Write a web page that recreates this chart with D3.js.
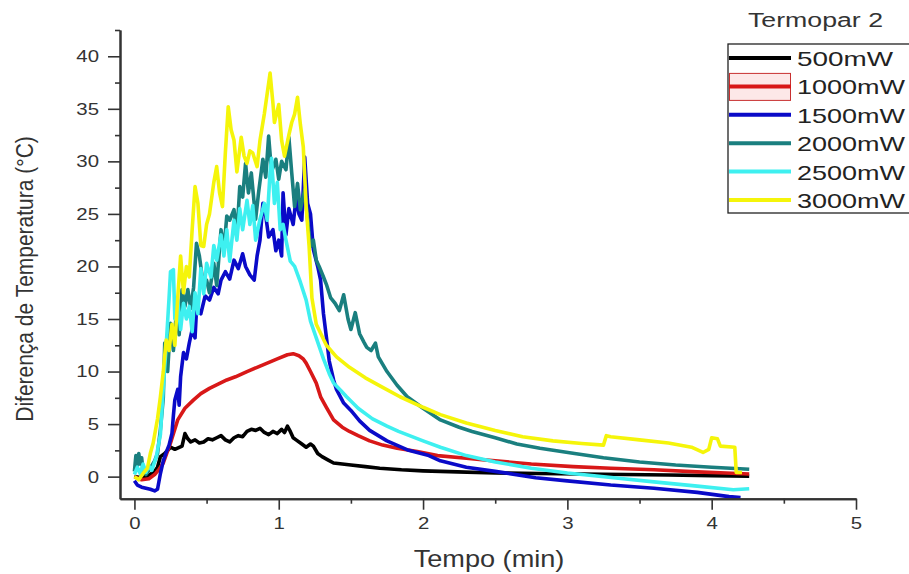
<!DOCTYPE html>
<html>
<head>
<meta charset="utf-8">
<script src="https://cdn.jsdelivr.net/npm/d3@7"></script>
<style>
  body { margin: 0; background: #fff; }
  svg { display: block; font-family: "Liberation Sans", Arial, sans-serif; }
</style>
</head>
<body>
<svg id="chart" width="909" height="574"></svg>
<script>
// labels
var seriesNames = ["500mW", "1000mW", "1500mW", "2000mW", "2500mW", "3000mW"]
var xTicks = [0, 1, 2, 3, 4, 5]
var yTicks = [0, 5, 10, 15, 20, 25, 30, 35, 40]

// data: [tempo (min), diferença (°C)]
var p500 = [[0,0],[0.05,-0.1],[0.1,0.1],[0.14,0.5],[0.16,0.9],[0.18,1.9],[0.21,2.2],[0.25,2.8],[0.28,2.6],[0.33,2.9],[0.35,4.1],[0.37,3.6],[0.39,3.3],[0.42,3.5],[0.45,3.2],[0.48,3.3],[0.51,3.6],[0.54,3.5],[0.57,3.7],[0.6,3.9],[0.63,3.5],[0.66,3.3],[0.69,3.7],[0.72,3.9],[0.75,3.8],[0.78,4.3],[0.81,4.5],[0.84,4.4],[0.87,4.6],[0.9,4.2],[0.93,4.0],[0.96,4.3],[0.99,4.1],[1.02,4.5],[1.04,4.2],[1.06,4.8],[1.08,4.3],[1.1,3.7],[1.12,3.5],[1.16,3.1],[1.19,2.8],[1.22,3.1],[1.24,2.9],[1.27,2.2],[1.3,1.9],[1.34,1.6],[1.38,1.3],[1.44,1.2],[1.5,1.1],[1.6,0.95],[1.7,0.8],[1.85,0.65],[2.0,0.55],[2.24,0.45],[2.5,0.35],[2.8,0.3],[3.1,0.25],[3.4,0.2],[3.7,0.15],[4.0,0.1],[4.26,0.05]]

var p1000 = [[0,0],[0.05,-0.3],[0.1,-0.2],[0.14,0.2],[0.17,0.7],[0.2,1.3],[0.25,3.2],[0.3,5.4],[0.35,6.5],[0.41,7.3],[0.46,7.9],[0.52,8.4],[0.58,8.8],[0.64,9.2],[0.7,9.5],[0.78,10.0],[0.85,10.4],[0.92,10.8],[0.99,11.2],[1.06,11.6],[1.1,11.7],[1.14,11.5],[1.17,11.2],[1.19,10.8],[1.22,10.0],[1.26,8.9],[1.29,7.6],[1.33,6.6],[1.38,5.4],[1.44,4.7],[1.49,4.3],[1.55,3.9],[1.63,3.4],[1.72,3.0],[1.82,2.7],[1.96,2.4],[2.1,2.0],[2.3,1.75],[2.5,1.5],[2.75,1.2],[3.04,0.95],[3.3,0.8],[3.6,0.65],[3.9,0.45],[4.1,0.35],[4.26,0.25]]

var p1500 = [[0,-0.4],[0.02,-0.8],[0.05,-1.0],[0.08,-1.1],[0.11,-1.2],[0.14,-1.35],[0.16,-1.2],[0.18,0.3],[0.2,1.5],[0.22,2.3],[0.24,3.0],[0.26,4.1],[0.27,5.8],[0.28,7.3],[0.3,8.3],[0.31,6.8],[0.32,9.5],[0.34,11.8],[0.36,11.2],[0.38,12.7],[0.4,14.0],[0.42,13.2],[0.43,15.9],[0.46,15.5],[0.49,17.2],[0.52,16.8],[0.55,18.0],[0.58,17.4],[0.6,18.7],[0.63,19.5],[0.66,18.8],[0.69,20.6],[0.72,19.8],[0.75,21.2],[0.77,20.0],[0.8,19.2],[0.83,18.7],[0.85,21.0],[0.87,22.5],[0.89,26.0],[0.91,24.8],[0.93,22.8],[0.96,23.5],[0.98,21.5],[1.0,22.5],[1.02,21.0],[1.03,27.0],[1.05,23.0],[1.07,25.5],[1.1,24.0],[1.12,26.5],[1.14,25.0],[1.16,24.4],[1.18,30.4],[1.2,26.0],[1.22,25.0],[1.24,21.6],[1.27,20.0],[1.29,18.7],[1.31,15.5],[1.33,13.3],[1.35,11.0],[1.38,9.2],[1.4,8.3],[1.45,7.0],[1.5,6.3],[1.56,5.3],[1.63,4.4],[1.75,3.4],[1.9,2.5],[2.04,2.0],[2.12,1.5],[2.3,0.9],[2.5,0.5],[2.78,-0.1],[3.0,-0.4],[3.3,-0.8],[3.6,-1.1],[3.9,-1.5],[4.12,-1.9],[4.2,-2.0]]

var p2000 = [[0,0.5],[0.01,2.0],[0.02,1.0],[0.03,2.2],[0.04,1.2],[0.05,1.8],[0.06,0.5],[0.08,0.2],[0.11,0.8],[0.14,1.5],[0.16,2.2],[0.18,4.5],[0.2,7.5],[0.21,12.7],[0.23,10.0],[0.25,14.6],[0.27,12.0],[0.29,15.5],[0.31,13.5],[0.33,17.8],[0.35,16.2],[0.37,17.8],[0.39,16.0],[0.41,18.0],[0.43,22.2],[0.45,21.0],[0.47,19.0],[0.5,18.7],[0.52,17.5],[0.55,20.3],[0.57,18.2],[0.6,23.5],[0.62,21.6],[0.64,24.8],[0.66,24.4],[0.69,25.4],[0.71,23.0],[0.73,27.6],[0.75,26.6],[0.77,29.8],[0.79,27.0],[0.81,28.9],[0.84,24.5],[0.86,27.0],[0.89,30.2],[0.91,28.5],[0.93,32.4],[0.95,29.0],[0.98,30.2],[1.0,28.3],[1.02,30.0],[1.05,29.2],[1.07,32.3],[1.09,28.9],[1.11,25.7],[1.13,27.9],[1.15,25.4],[1.18,27.3],[1.2,24.4],[1.22,21.9],[1.24,22.5],[1.26,20.6],[1.28,20.0],[1.31,19.0],[1.33,18.3],[1.36,17.0],[1.39,16.5],[1.42,15.8],[1.45,17.3],[1.48,15.0],[1.5,14.0],[1.53,15.6],[1.56,13.6],[1.59,12.8],[1.61,12.3],[1.64,12.0],[1.67,12.7],[1.69,11.4],[1.75,10.0],[1.82,8.7],[1.89,7.6],[2.0,6.5],[2.12,5.4],[2.25,4.7],[2.34,4.3],[2.5,3.7],[2.65,3.1],[2.81,2.7],[3.05,2.2],[3.25,1.8],[3.5,1.4],[3.75,1.1],[4.0,0.9],[4.26,0.7]]

var p2500 = [[0,0.2],[0.02,0.9],[0.04,0.3],[0.06,1.2],[0.08,0.4],[0.1,1.0],[0.12,0.6],[0.15,1.8],[0.18,4.0],[0.2,8.5],[0.22,12.5],[0.24,17.0],[0.25,19.5],[0.27,19.7],[0.28,15.0],[0.3,16.8],[0.32,14.0],[0.34,16.5],[0.36,15.0],[0.38,16.2],[0.4,13.8],[0.42,17.5],[0.44,15.5],[0.46,19.8],[0.48,17.4],[0.5,20.3],[0.53,19.0],[0.55,22.0],[0.57,20.6],[0.6,23.0],[0.62,21.0],[0.64,23.5],[0.66,20.5],[0.69,24.4],[0.71,22.5],[0.73,25.5],[0.75,23.5],[0.78,26.3],[0.8,24.0],[0.82,25.8],[0.84,22.5],[0.87,24.5],[0.9,26.0],[0.92,24.4],[0.94,29.0],[0.95,30.3],[0.97,26.0],[0.99,28.0],[1.01,23.5],[1.03,24.0],[1.05,22.5],[1.08,20.5],[1.11,20.0],[1.15,18.5],[1.19,16.8],[1.22,14.8],[1.26,13.2],[1.31,11.2],[1.35,9.8],[1.38,8.9],[1.43,8.2],[1.47,7.6],[1.55,6.5],[1.65,5.5],[1.75,4.8],[1.83,4.3],[2.0,3.4],[2.12,2.8],[2.3,2.0],[2.5,1.4],[2.75,0.8],[3.0,0.35],[3.32,-0.1],[3.6,-0.5],[3.9,-0.9],[4.15,-1.25],[4.26,-1.15]]

var p3000 = [[0,0],[0.03,-0.3],[0.06,0.3],[0.09,0.8],[0.11,2.2],[0.13,3.2],[0.16,5.5],[0.18,7.6],[0.2,10.0],[0.22,13.0],[0.24,12.0],[0.26,14.5],[0.28,12.5],[0.3,17.0],[0.32,21.0],[0.34,17.5],[0.36,20.0],[0.38,19.0],[0.4,23.5],[0.42,27.6],[0.44,26.0],[0.46,22.0],[0.48,21.9],[0.5,24.0],[0.52,25.0],[0.55,28.0],[0.57,29.5],[0.59,27.0],[0.61,25.7],[0.63,30.8],[0.65,35.2],[0.67,33.0],[0.69,32.0],[0.71,29.0],[0.74,32.3],[0.76,30.5],[0.78,29.8],[0.8,31.0],[0.82,30.8],[0.85,29.5],[0.87,32.0],[0.9,34.5],[0.94,38.4],[0.96,35.5],[0.97,33.7],[1.0,35.4],[1.02,32.0],[1.04,30.5],[1.07,32.5],[1.09,33.7],[1.11,34.5],[1.13,36.1],[1.15,33.5],[1.17,31.4],[1.19,25.7],[1.21,22.0],[1.23,17.0],[1.26,14.5],[1.33,12.5],[1.4,11.4],[1.49,10.4],[1.6,9.4],[1.72,8.5],[1.84,7.6],[2.0,6.6],[2.12,5.9],[2.3,5.1],[2.5,4.4],[2.69,3.8],[2.9,3.4],[3.1,3.15],[3.25,3.0],[3.27,3.9],[3.3,3.8],[3.5,3.5],[3.7,3.2],[3.86,2.8],[3.94,2.3],[3.98,2.6],[4.0,3.7],[4.04,3.6],[4.06,2.9],[4.16,2.8],[4.17,0.4],[4.21,0.4]]

var colors = ["#000000", "#d81818", "#0a0ac8", "#1a7f7f", "#3ef0f0", "#f5f50a"]
var allSeries = [p500, p1000, p1500, p2000, p2500, p3000]

var dimensions = {
    width: 909,
    height: 574,
    left: 120,
    right: 856,
    top: 30,
    bottom: 498.7
}

var svg = d3.select("#chart")

var xScale = d3.scaleLinear()
    .domain([-0.1, 5])
    .range([dimensions.left, dimensions.right])

var yScale = d3.scaleLinear()
    .domain([-2.1, 42.5])
    .range([dimensions.bottom, dimensions.top])

var line = d3.line()
    .x(d => xScale(d[0]))
    .y(d => yScale(d[1]))

// curves, 3000mW last so it sits on top
svg.append("g")
    .selectAll("path")
    .data(allSeries)
    .enter()
    .append("path")
    .attr("d", d => line(d))
    .attr("fill", "none")
    .attr("stroke", (d, i) => colors[i])
    .attr("stroke-width", 3.6)
    .attr("stroke-linejoin", "round")

//axes
var axisColor = "#333"
var intFormat = d3.format("d")

var xAxis = svg.append("g")
    .attr("transform", "translate(0," + dimensions.bottom + ")")
    .call(d3.axisBottom(xScale).tickValues(xTicks).tickFormat(intFormat).tickSize(11).tickSizeOuter(0).tickPadding(7))
svg.append("g")
    .attr("transform", "translate(0," + dimensions.bottom + ")")
    .call(d3.axisBottom(xScale).tickValues([0.5, 1.5, 2.5, 3.5, 4.5]).tickSize(5).tickSizeOuter(0).tickFormat(""))

var yAxis = svg.append("g")
    .attr("transform", "translate(" + dimensions.left + ",0)")
    .call(d3.axisLeft(yScale).tickValues(yTicks).tickFormat(intFormat).tickSize(12).tickSizeOuter(0).tickPadding(9))
svg.append("g")
    .attr("transform", "translate(" + dimensions.left + ",0)")
    .call(d3.axisLeft(yScale).tickValues([2.5, 7.5, 12.5, 17.5, 22.5, 27.5, 32.5, 37.5, 42.5]).tickSize(5).tickSizeOuter(0).tickFormat(""))

svg.selectAll(".domain").attr("stroke", axisColor).attr("stroke-width", 2)
svg.selectAll(".tick line").attr("stroke", axisColor).attr("stroke-width", 1.6)
svg.selectAll(".tick text")
    .attr("fill", "#333")
    .style("font-size", "17px")
    .style("font-family", "'Liberation Sans', Arial, sans-serif")

xAxis.selectAll(".tick text").attr("transform", "scale(1.2,1)")
yAxis.selectAll(".tick text").attr("x", -17.5).attr("transform", "scale(1.2,1)")

//graph labels
svg.append("text")
    .attr("transform", "translate(489,567) scale(1.18,1)")
    .style("text-anchor", "middle")
    .style("font-size", "23px")
    .attr("fill", "#333")
    .text("Tempo (min)")

svg.append("text")
    .attr("transform", "translate(33,279) scale(1.15,1) rotate(-90)")
    .style("text-anchor", "middle")
    .style("font-size", "21px")
    .attr("fill", "#333")
    .text("Diferença de Temperatura (°C)")

// legend
svg.append("text")
    .attr("x", 748)
    .attr("y", 27)
    .attr("textLength", 135)
    .attr("lengthAdjust", "spacingAndGlyphs")
    .style("font-size", "20px")
    .attr("fill", "#333")
    .text("Termopar 2")

var legend = svg.append("g")

legend.append("rect")
    .attr("x", 728)
    .attr("y", 44)
    .attr("width", 200)
    .attr("height", 169)
    .attr("fill", "#fff")
    .attr("stroke", "#222")
    .attr("stroke-width", 1.3)

var rowY = d3.scaleLinear().domain([0, 5]).range([58, 200])

// selection box round the 1000mW sample
legend.append("rect")
    .attr("x", 729.5)
    .attr("y", rowY(1) - 13)
    .attr("width", 61)
    .attr("height", 27)
    .attr("fill", "#fde8e8")
    .attr("stroke", "#c83030")
    .attr("stroke-width", 1)

legend.selectAll(".sample")
    .data(seriesNames)
    .enter()
    .append("line")
    .attr("x1", 729)
    .attr("x2", 791)
    .attr("y1", (d, i) => rowY(i))
    .attr("y2", (d, i) => rowY(i))
    .attr("stroke", (d, i) => colors[i])
    .attr("stroke-width", 4)

legend.selectAll(".label")
    .data(seriesNames)
    .enter()
    .append("text")
    .attr("x", 797)
    .attr("y", (d, i) => rowY(i) + 8)
    .attr("textLength", d => d.length === 5 ? 96 : 108)
    .attr("lengthAdjust", "spacingAndGlyphs")
    .style("font-size", "21px")
    .attr("fill", "#222")
    .text(d => d)
</script>
</body>
</html>
